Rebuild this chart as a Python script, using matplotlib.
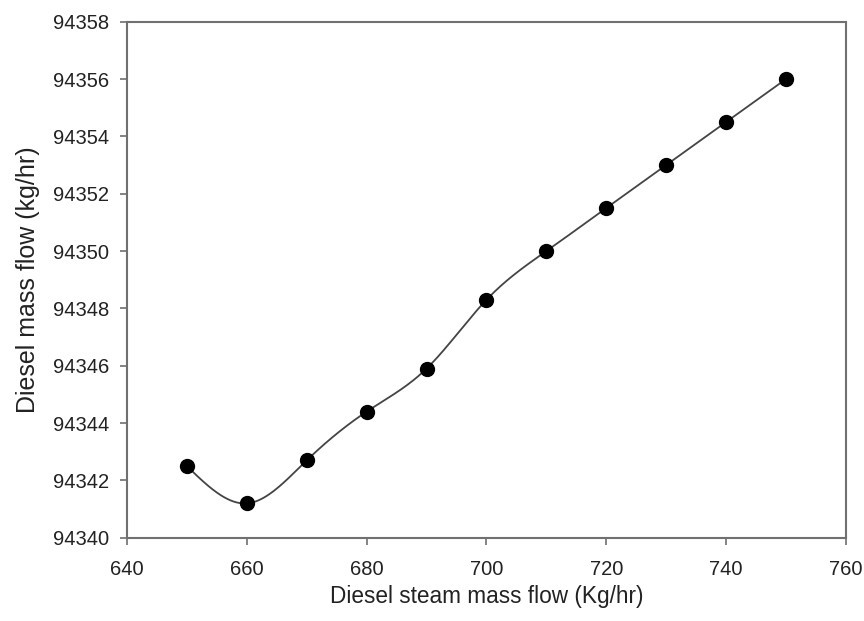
import matplotlib
matplotlib.use("Agg")
import matplotlib.pyplot as plt
import numpy as np

plt.rcParams["font.family"] = ["Liberation Sans", "DejaVu Sans"]

steam = [650, 660, 670, 680, 690, 700, 710, 720, 730, 740, 750]
diesel = [94342.5, 94341.2, 94342.7, 94344.4, 94345.9, 94348.3,
          94350.0, 94351.5, 94353.0, 94354.5, 94356.0]
xticks = [640, 660, 680, 700, 720, 740, 760]
yticks = [94340, 94342, 94344, 94346, 94348, 94350, 94352, 94354, 94356, 94358]


def natural_spline(x, y, n=400):
    x = np.asarray(x, float)
    y = np.asarray(y, float)
    k = len(x)
    h = np.diff(x)
    A = np.zeros((k, k))
    b = np.zeros(k)
    A[0, 0] = A[-1, -1] = 1
    for i in range(1, k - 1):
        A[i, i - 1] = h[i - 1]
        A[i, i] = 2 * (h[i - 1] + h[i])
        A[i, i + 1] = h[i]
        b[i] = 3 * ((y[i + 1] - y[i]) / h[i] - (y[i] - y[i - 1]) / h[i - 1])
    c = np.linalg.solve(A, b)
    xs = np.linspace(x[0], x[-1], n)
    idx = np.clip(np.searchsorted(x, xs) - 1, 0, k - 2)
    dx = xs - x[idx]
    hi = h[idx]
    bi = (y[idx + 1] - y[idx]) / hi - hi * (2 * c[idx] + c[idx + 1]) / 3
    di = (c[idx + 1] - c[idx]) / (3 * hi)
    ys = y[idx] + bi * dx + c[idx] * dx ** 2 + di * dx ** 3
    return xs, ys


fig = plt.figure(figsize=(8.64, 6.21), dpi=100)
ax = fig.add_axes([0.147, 0.134, 0.832, 0.831])

xs, ys = natural_spline(steam, diesel)
ax.plot(xs, ys, color="#444444", lw=1.3, zorder=2)
ax.plot(steam, diesel, "o", color="black", ms=10, zorder=3)

ax.set_xlim(640, 760)
ax.set_ylim(94340, 94358)
ax.set_xticks(xticks)
ax.set_yticks(yticks)
ax.ticklabel_format(useOffset=False)
ax.tick_params(direction="out", length=5, width=1.2, color="#707070",
               labelsize=14.5, labelcolor="#222222")
ax.tick_params(axis="x", pad=11)
ax.tick_params(axis="y", pad=8)
for s in ax.spines.values():
    s.set_color("#707070")
    s.set_linewidth(1.5)

ax.set_xlabel("Diesel steam mass flow (Kg/hr)", fontsize=16.3, color="#222222", va="center")
ax.set_ylabel("Diesel mass flow (kg/hr)", fontsize=18, color="#222222", va="center")
ax.xaxis.set_label_coords(0.5, -0.113)
ax.yaxis.set_label_coords(-0.138, 0.5)

fig.savefig("out.png", dpi=100, facecolor="white")
